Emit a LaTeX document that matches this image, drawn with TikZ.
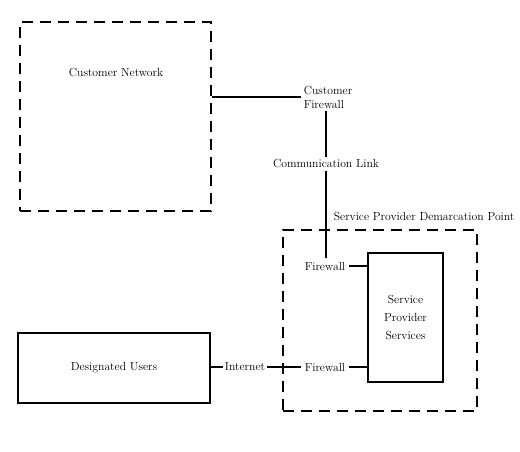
\documentclass[tikz,border=0pt]{standalone}
\usepackage{amsmath}

\begin{document}
\begin{tikzpicture}[x=1pt, y=-1pt, font=\fontsize{11.7}{13}\selectfont, line width=1.6pt,
  zone/.style={draw, dash pattern=on 11pt off 7pt, inner sep=0pt},
  box/.style={draw, align=center, inner sep=0pt},
  lbl/.style={align=center, inner sep=2pt}]
\useasboundingbox (0,0) rectangle (520,452);
\node[zone, minimum width=191pt, minimum height=189pt] (cnet) at (115.5,116.5) {};
\node[lbl] (cnettxt) at (116,73) {Customer Network};
\node[lbl, align=left, anchor=west] (cfw) at (301,97) {Customer\\[1pt]Firewall};
\node[lbl] (comm) at (326,164) {Communication Link};
\node[lbl, anchor=west] (spd) at (331,217) {Service Provider Demarcation Point};
\node[zone, minimum width=194pt, minimum height=181pt] (spzone) at (380,320.5) {};
\node[box, minimum width=75pt, minimum height=129pt] (sps) at (405.5,317.5) {Service\\[5pt]Provider\\[5pt]Services};
\node[lbl, inner sep=3pt] (fw1) at (325,266) {Firewall};
\node[lbl, inner sep=3pt] (fw2) at (325,367) {Firewall};
\node[box, minimum width=192pt, minimum height=70pt] (du) at (114,368) {Designated Users};
\node[lbl, inner sep=1.5pt] (inet) at (245,367) {Internet};
\draw (cnet.east |- cfw.west) -- (cfw.west);
\draw (comm.north |- cfw.south) -- (comm.north);
\draw (comm.south) -- (comm.south |- fw1.north);
\draw (fw1.east) -- (sps.west |- fw1.east);
\draw (fw2.east) -- (sps.west |- fw2.east);
\draw (du.east |- inet.west) -- (inet.west);
\draw (inet.east) -- (fw2.west);
\end{tikzpicture}
\end{document}
